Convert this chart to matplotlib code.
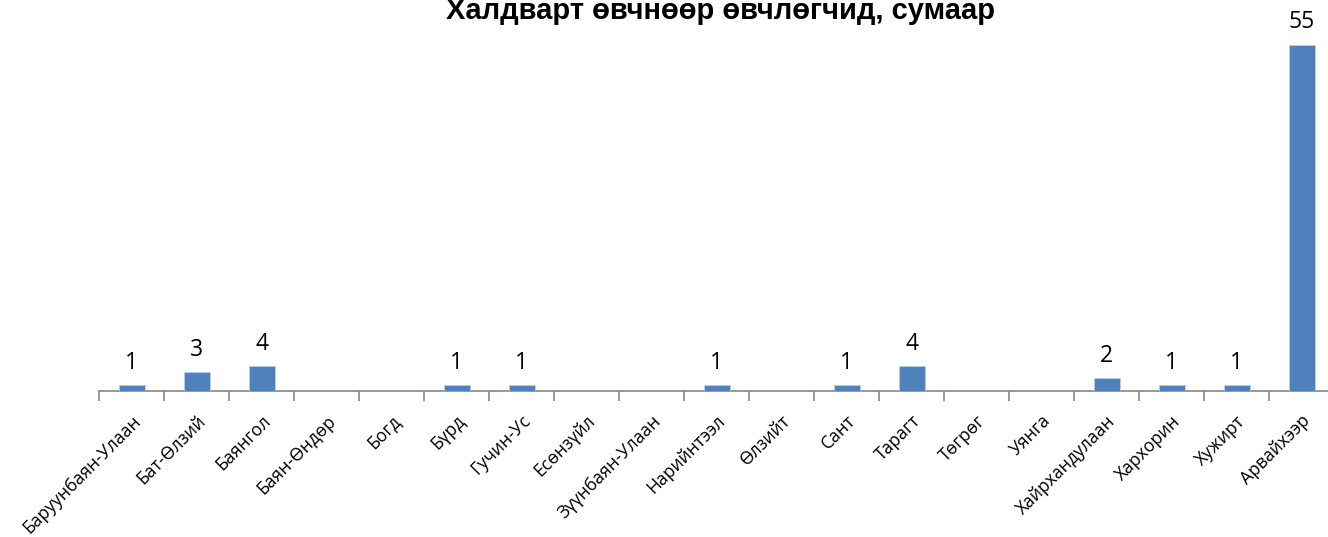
import matplotlib
matplotlib.use("Agg")
import matplotlib.pyplot as plt
import numpy as np

title = "Халдварт өвчнөөр өвчлөгчид, сумаар"
categories = ["Баруунбаян-Улаан", "Бат-Өлзий", "Баянгол", "Баян-Өндөр", "Богд",
              "Бүрд", "Гучин-Ус", "Есөнзүйл", "Зүүнбаян-Улаан", "Нарийнтээл",
              "Өлзийт", "Сант", "Тарагт", "Төгрөг", "Уянга", "Хайрхандулаан",
              "Хархорин", "Хужирт", "Арвайхээр"]
values = [1, 3, 4, 0, 0, 1, 1, 0, 0, 1, 0, 1, 4, 0, 0, 2, 1, 1, 55]

W, H = 1328, 537
fig = plt.figure(figsize=(W / 100, H / 100), dpi=100)
left_px, right_px = 99, 1334
base_px, top_px = 391, 13
ax = fig.add_axes([left_px / W, (H - base_px) / H, (right_px - left_px) / W, (base_px - top_px) / H])

x = np.arange(len(categories))
bars = ax.bar(x, values, width=0.4, color="#4F81BD", edgecolor="#B9CDE5", linewidth=0.6, zorder=3)
ax.set_xlim(-0.5, len(categories) - 0.5)
ax.set_ylim(0, 60)

for xi, v in zip(x, values):
    if v > 0:
        ax.text(xi, v + 1.6, str(v), ha="center", va="bottom", fontsize=16.5,
                family=["Open Sans", "DejaVu Sans"], color="black")

for s in ["top", "right", "left"]:
    ax.spines[s].set_visible(False)
ax.spines["bottom"].set_color("#868686")
ax.spines["bottom"].set_linewidth(1.2)
ax.set_yticks([])

ax.set_xticks(x)
ax.set_xticklabels(categories, rotation=45, ha="right", rotation_mode="anchor",
                   fontsize=12.7, family=["Open Sans", "DejaVu Sans"])
ax.tick_params(axis="x", which="major", length=0, pad=15)
ax.set_xticks(np.arange(-0.5, len(categories), 1.0), minor=True)
ax.tick_params(axis="x", which="minor", length=7, color="#868686", width=1.2)

fig.text(720 / W, 1 - 19 / H, title, ha="center", va="baseline", fontsize=21,
         fontweight="bold", family=["Liberation Sans", "DejaVu Sans"])

fig.savefig("out.png", dpi=100)
